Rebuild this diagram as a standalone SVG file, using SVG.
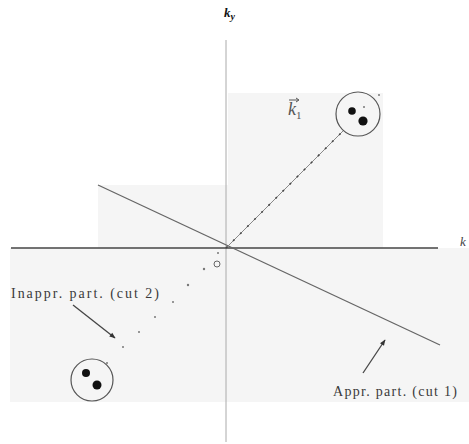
<svg xmlns="http://www.w3.org/2000/svg" width="469" height="444" viewBox="0 0 469 444">
  <defs>
    <style>
      .lbl { font-family: "Liberation Serif", "DejaVu Serif", serif; fill: #3a3a3a; font-size: 14px; }
      .ax { stroke: #444; stroke-width: 1.4; fill: none; }
      .vax { stroke: #aaa; stroke-width: 1; fill: none; }
      .cut { stroke: #666; stroke-width: 1.3; fill: none; }
      .ring { stroke: #555; stroke-width: 1.2; fill: none; }
      .dot { fill: #111; }
      .pt { fill: #777; }
      .bg { fill: #f5f5f5; }
    </style>
    <marker id="ah" viewBox="0 0 10 10" refX="9" refY="5" markerWidth="7" markerHeight="6" orient="auto-start-reverse" markerUnits="userSpaceOnUse">
      <path d="M0,1 L10,5 L0,9 Z" fill="#333"/>
    </marker>
  </defs>
  <rect width="469" height="444" fill="#ffffff"/>
  <g id="background">
    <rect class="bg" x="228" y="93" width="155" height="155"/>
    <rect class="bg" x="98" y="185" width="130" height="63"/>
    <rect class="bg" x="10" y="248" width="459" height="154"/>
  </g>
  <g id="axes">
    <line class="vax" x1="226" y1="40" x2="226" y2="442"/>
    <line class="ax" x1="11" y1="248" x2="438" y2="248"/>
    <text class="lbl" x="224" y="17" style="font-weight:bold;font-style:italic;fill:#111;font-size:13px">k<tspan dy="3" font-size="10">y</tspan></text>
    <text class="lbl" x="460" y="246" style="font-style:italic;font-size:13px;fill:#444">k</text>
  </g>
  <g id="connectors">
    <line class="cut" x1="98" y1="185" x2="440" y2="345"/>
    <line x1="226" y1="248" x2="344" y2="130" stroke="#888" stroke-width="1"/>
    <line x1="226" y1="248" x2="344" y2="130" stroke="#444" stroke-width="1.6" stroke-dasharray="2 8"/>
    <line x1="73" y1="305" x2="115" y2="338" stroke="#444" stroke-width="1.3" marker-end="url(#ah)"/>
    <line x1="363" y1="373" x2="385" y2="340" stroke="#444" stroke-width="1.3" marker-end="url(#ah)"/>
  </g>
  <g id="points">
    <circle class="pt" cx="218" cy="253" r="1"/>
    <circle cx="217" cy="264" r="3" fill="none" stroke="#666" stroke-width="1"/>
    <circle class="pt" cx="204" cy="269" r="1.2"/>
    <circle class="pt" cx="188" cy="285" r="1.2"/>
    <circle class="pt" cx="173" cy="302" r="1"/>
    <circle class="pt" cx="155" cy="317" r="1"/>
    <circle class="pt" cx="139" cy="332" r="1"/>
    <circle class="pt" cx="123" cy="347" r="1"/>
  </g>
  <g id="node-k1">
    <circle class="ring" cx="358" cy="114" r="22"/>
    <circle class="dot" cx="352" cy="111" r="3.8"/>
    <circle class="dot" cx="363" cy="121" r="4.6"/>
    <circle class="pt" cx="364" cy="107" r="1"/>
    <circle class="pt" cx="379" cy="95" r="1"/>
    <text class="lbl" x="288" y="115" style="font-style:italic;font-size:18px;fill:#555">k<tspan dy="4" font-size="11" font-style="normal">1</tspan></text>
    <line x1="289" y1="100" x2="298" y2="100" stroke="#555" stroke-width="1"/>
    <path d="M296,98 L299,100 L296,102" fill="none" stroke="#555" stroke-width="1"/>
  </g>
  <g id="node-k2">
    <circle class="ring" cx="92" cy="380" r="21"/>
    <circle class="dot" cx="86" cy="373" r="4"/>
    <circle class="dot" cx="97" cy="385" r="4.5"/>
    <circle class="pt" cx="107" cy="363" r="1"/>
  </g>
  <g id="label-cut2">
    <text class="lbl" x="11" y="298" textLength="148" lengthAdjust="spacing">Inappr. part. (cut 2)</text>
  </g>
  <g id="label-cut1">
    <text class="lbl" x="333" y="396" textLength="124" lengthAdjust="spacing">Appr. part. (cut 1)</text>
  </g>
</svg>
